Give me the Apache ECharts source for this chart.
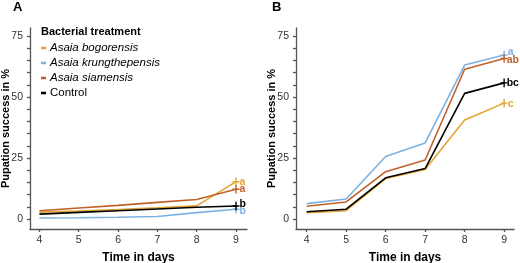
<!DOCTYPE html>
<html><head><meta charset="utf-8">
<script src="https://cdn.jsdelivr.net/npm/echarts@6/dist/echarts.min.js"></script>
<style>html,body{margin:0;padding:0;background:#fff}#c{width:520px;height:263px}</style>
</head><body><div id="c"></div>
<script>
var days = [4, 5, 6, 7, 8, 9];
var seriesNames = ['Asaia bogorensis', 'Asaia krungthepensis', 'Asaia siamensis', 'Control'];
var aBogorensis = [2.8, 3.3, 3.9, 4.6, 5.4, 15.3];
var aKrung = [0.4, 0.5, 0.7, 1.0, 2.6, 4.0];
var aSiamensis = [3.4, 4.5, 5.6, 6.8, 8.0, 12.2];
var aControl = [2.0, 2.7, 3.4, 4.1, 4.8, 5.3];
var bBogorensis = [2.6, 3.4, 16.6, 20.3, 40.6, 47.5];
var bKrung = [6.3, 8.2, 25.6, 31.2, 63.1, 67.2];
var bSiamensis = [5.2, 7.0, 19.4, 24.2, 61.4, 65.8];
var bControl = [3.0, 4.0, 16.9, 20.7, 51.5, 55.8];
var lettersA = ['a', 'b', 'a', 'b'];
var lettersB = ['c', 'a', 'ab', 'bc'];
var yTicks = [0, 5, 10, 15, 20, 25, 30, 35, 40, 45, 50, 55, 60, 65, 70, 75];
var yTickLabels = [0, 25, 50, 75];
var xTickLabels = [4, 5, 6, 7, 8, 9];

var colors = ['#E3A531', '#7DB2E0', '#BF6128', '#000000'];
var FONT = '"Liberation Sans", Arial, Helvetica, sans-serif';
var plus = 'path://M0,3.6h7v1.4h-7z M2.8,0h1.4v8.6h-1.4z';

var labelOffA = [[0, 0], [0, 2], [0, 0], [0, -2]];
var labelOffB = [[0, 1], [0, -3], [-1, 2], [-1, 0]];

function makeSeries(vals, idx, grid, letter, off) {
  var data = days.map(function (d, i) {
    var item = { value: [d, vals[i]] };
    if (i === days.length - 1) {
      item.symbol = plus;
      item.symbolSize = [7, 8.6];
      item.label = {
        show: true, formatter: letter, position: 'right', distance: 0,
        offset: off, color: colors[idx], fontFamily: FONT, fontSize: 10.5, fontWeight: 'bold'
      };
    } else {
      item.symbolSize = 0;
    }
    return item;
  });
  return {
    type: 'line', name: seriesNames[idx], xAxisIndex: grid, yAxisIndex: grid,
    data: data, symbol: 'none', showSymbol: true, showAllSymbol: true,
    color: colors[idx],
    lineStyle: { color: colors[idx], width: 1.6 },
    itemStyle: { color: colors[idx], borderWidth: 0 },
    emphasis: { disabled: true }, animation: false, silent: true, z: 2 + idx
  };
}

var axisLineStyle = { color: '#555', width: 1.3 };
function xAxis(grid, min, max) {
  return {
    type: 'value', gridIndex: grid, min: min, max: max,
    name: 'Time in days', nameLocation: 'middle', nameGap: 23, nameMoveOverlap: false,
    nameTextStyle: { fontFamily: FONT, fontSize: 12, fontWeight: 'bold', color: '#000' },
    axisLine: { show: true, onZero: false, lineStyle: axisLineStyle },
    axisTick: { show: true, length: 3, lineStyle: axisLineStyle, customValues: days },
    axisLabel: { customValues: xTickLabels, fontFamily: FONT, fontSize: 10.5, color: '#333', margin: 6 },
    splitLine: { show: false }
  };
}
function yAxis(grid) {
  return {
    type: 'value', gridIndex: grid, min: -4.1, max: 78.3,
    name: 'Pupation success in %', nameLocation: 'middle', nameGap: 19, nameMoveOverlap: false,
    nameTextStyle: { fontFamily: FONT, fontSize: 11, fontWeight: 'bold', color: '#000' },
    axisLine: { show: true, onZero: false, lineStyle: axisLineStyle },
    axisTick: { show: true, length: 3, lineStyle: axisLineStyle, customValues: yTicks },
    axisLabel: { customValues: yTickLabels, fontFamily: FONT, fontSize: 10.5, color: '#333', margin: 7 },
    splitLine: { show: false }
  };
}

var series = [];
var aVals = [aBogorensis, aKrung, aSiamensis, aControl];
var bVals = [bBogorensis, bKrung, bSiamensis, bControl];
for (var i = 0; i < 4; i++) series.push(makeSeries(aVals[i], i, 0, lettersA[i], labelOffA[i]));
for (var j = 0; j < 4; j++) series.push(makeSeries(bVals[j], j, 1, lettersB[j], labelOffB[j]));

var option = {
  animation: false,
  textStyle: { fontFamily: FONT },
  title: [
    { text: 'A', left: 13, top: 1, padding: 0, textStyle: { fontFamily: FONT, fontSize: 13, fontWeight: 'bold', color: '#000' } },
    { text: 'B', left: 272, top: 1, padding: 0, textStyle: { fontFamily: FONT, fontSize: 13, fontWeight: 'bold', color: '#000' } },
    { text: 'Bacterial treatment', left: 41, top: 26, padding: 0, textStyle: { fontFamily: FONT, fontSize: 11, fontWeight: 'bold', color: '#000' } }
  ],
  legend: {
    data: seriesNames, orient: 'vertical', left: 41, top: 41, padding: 0,
    icon: 'rect', itemWidth: 5, itemHeight: 2.5, itemGap: 1,
    selectedMode: false,
    textStyle: { fontFamily: FONT, fontSize: 11.5, color: '#000', lineHeight: 14, padding: [0, 0, 0, -1],
      rich: { i: { fontStyle: 'italic', fontFamily: FONT, fontSize: 11.5, color: '#000' } } },
    formatter: function (n) { return n === 'Control' ? n : '{i|' + n + '}'; }
  },
  grid: [
    { left: 30, top: 28, width: 217, height: 201, containLabel: false, outerBoundsMode: 'none' },
    { left: 296, top: 28, width: 218, height: 201, containLabel: false, outerBoundsMode: 'none' }
  ],
  xAxis: [xAxis(0, 3.76, 9.28), xAxis(1, 3.73, 9.25)],
  yAxis: [yAxis(0), yAxis(1)],
  series: series
};
var chart = echarts.init(document.getElementById('c'), null, { renderer: 'canvas' });
chart.setOption(option);
</script></body></html>
